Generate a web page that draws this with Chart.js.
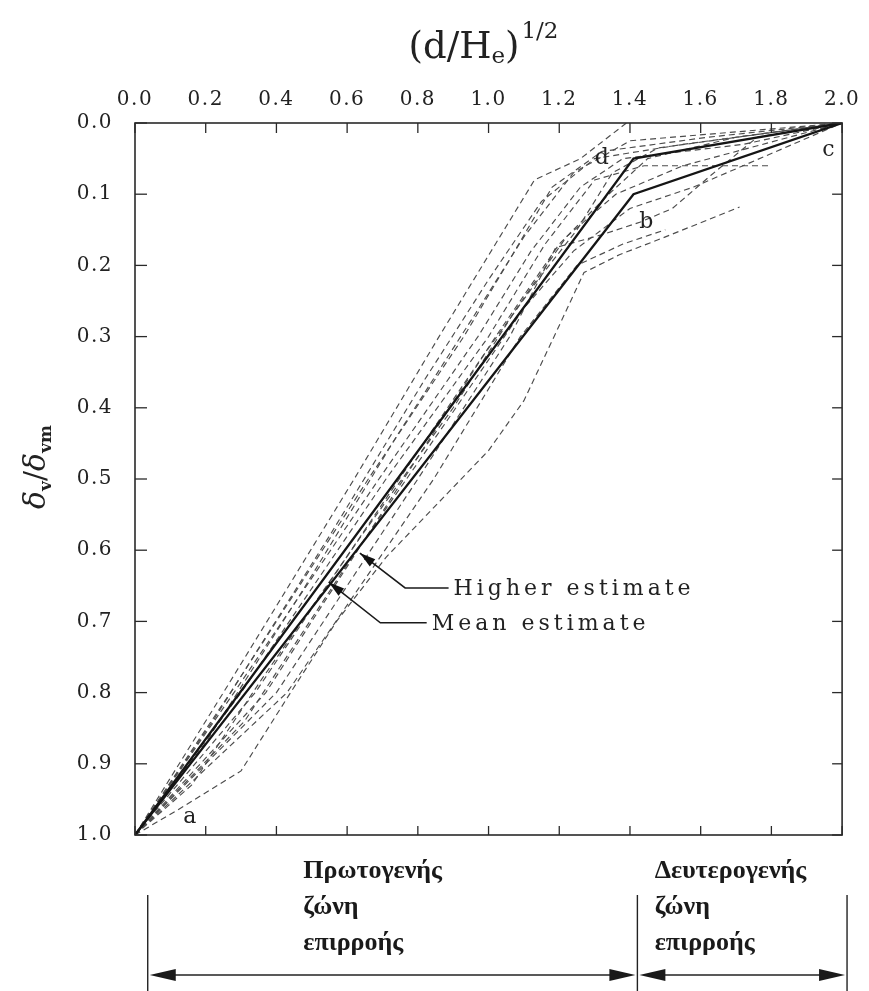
<!DOCTYPE html>
<html>
<head>
<meta charset="utf-8">
<script src="https://cdn.jsdelivr.net/npm/chart.js@4.4.1/dist/chart.umd.min.js"></script>
<style>
  html, body { margin: 0; padding: 0; background: #fff; }
  canvas { display: block; }
</style>
</head>
<body>
<canvas id="chart" width="869" height="991"></canvas>
<script>
// Axis ticks
const xTickValues = [0, 0.2, 0.4, 0.6, 0.8, 1.0, 1.2, 1.4, 1.6, 1.8, 2.0];
const yTickValues = [0, 0.1, 0.2, 0.3, 0.4, 0.5, 0.6, 0.7, 0.8, 0.9, 1.0];

// Design envelopes, [ (d/He)^1/2 , δv/δvm ]
const meanEstimate   = [[0, 1.0], [1.41, 0.05], [2.0, 0]];
const higherEstimate = [[0, 1.0], [1.41, 0.10], [2.0, 0]];

// Measured settlement profiles (dashed)
const profile1  = [[0, 1], [0.25, 0.80], [0.62, 0.50], [0.86, 0.30], [1.13, 0.08], [1.26, 0.05], [1.39, 0]];
const profile2  = [[0, 1], [0.27, 0.80], [0.66, 0.50], [0.93, 0.30], [1.05, 0.20], [1.18, 0.09], [1.32, 0.04], [1.62, 0.02], [2.0, 0]];
const profile3  = [[0, 1], [0.28, 0.80], [0.69, 0.50], [0.97, 0.30], [1.12, 0.18], [1.26, 0.09], [1.38, 0.05], [1.72, 0.03], [2.0, 0]];
const profile4  = [[0, 1], [0.30, 0.80], [0.71, 0.50], [1.00, 0.30], [1.16, 0.17], [1.30, 0.08], [1.44, 0.06], [1.80, 0.06]];
const profile5  = [[0, 1], [0.34, 0.80], [0.72, 0.52], [0.98, 0.33], [1.14, 0.22], [1.25, 0.15], [1.35, 0.07], [1.48, 0.035], [2.0, 0]];
const profile6  = [[0, 1], [0.37, 0.80], [0.76, 0.50], [1.02, 0.30], [1.20, 0.17], [1.34, 0.10], [1.45, 0.05], [1.70, 0.02], [2.0, 0]];
const profile7  = [[0, 1], [0.40, 0.80], [0.80, 0.50], [1.06, 0.30], [1.19, 0.175], [1.32, 0.157], [1.43, 0.139], [1.52, 0.12], [1.63, 0.073], [1.76, 0.02], [2.0, 0]];
const profile8  = [[0, 1], [0.43, 0.80], [0.845, 0.50], [1.09, 0.30], [1.25, 0.20], [1.38, 0.17], [1.50, 0.15]];
const profile9  = [[0, 1], [0.12, 0.965], [0.30, 0.91], [0.44, 0.80], [0.57, 0.70], [0.71, 0.61], [1.0, 0.46], [1.10, 0.39], [1.19, 0.295], [1.27, 0.21], [1.37, 0.185], [1.49, 0.162], [1.71, 0.118]];
const profile10 = [[0, 1], [0.16, 0.93], [0.36, 0.78], [0.64, 0.58], [0.90, 0.40], [1.08, 0.26], [1.22, 0.16], [1.36, 0.10], [1.55, 0.06], [2.0, 0]];
const profile11 = [[0, 1], [0.22, 0.84], [0.55, 0.58], [0.82, 0.36], [1.00, 0.22], [1.15, 0.11], [1.30, 0.05], [1.55, 0.03], [2.0, 0]];
const profile12 = [[0, 1], [0.20, 0.87], [0.47, 0.66], [0.74, 0.44], [0.96, 0.27], [1.10, 0.16], [1.24, 0.07], [1.40, 0.025], [2.0, 0]];
const profile13 = [[0, 1], [0.31, 0.84], [0.60, 0.62], [0.88, 0.42], [1.10, 0.26], [1.24, 0.18], [1.40, 0.12], [1.58, 0.09], [2.0, 0]];

// Point letters
const letterNames  = ['a', 'b', 'c', 'd'];
const letterPoints = [[0.155, 0.975], [1.446, 0.139], [1.961, 0.038], [1.32, 0.049]];

// Envelope call-outs: arrow tip, elbow, end of leader, text
const calloutText  = ['Higher estimate', 'Mean estimate'];
const calloutTip   = [[0.636, 0.604], [0.548, 0.645]];
const calloutElbow = [[0.764, 0.653], [0.694, 0.702]];
const calloutEnd   = [0.887, 0.825];

// Influence zones below the plot
const zoneBounds = [0.036, 1.421, 2.014];
const zoneTextX  = [0.476, 1.47];
const zoneLines  = [['Πρωτογενής', 'ζώνη', 'επιρροής'], ['Δευτερογενής', 'ζώνη', 'επιρροής']];

const toXY = arr => arr.map(([x, y]) => ({ x, y }));
const profiles = [profile1, profile2, profile3, profile4, profile5, profile6, profile7,
                  profile8, profile9, profile10, profile11, profile12, profile13];

const solidSet = (pts) => ({
  data: toXY(pts), showLine: true, pointRadius: 0, borderColor: '#151515', borderWidth: 2.3, tension: 0
});
const dashedSet = (pts) => ({
  data: toXY(pts), showLine: true, pointRadius: 0, borderColor: '#4c4c4c', borderWidth: 1.15,
  borderDash: [6, 4], tension: 0
});

const SERIF = '"DejaVu Serif", "Liberation Serif", serif';
const TIMES = '"Liberation Serif", "DejaVu Serif", serif';

function arrowHead(ctx, tx, ty, fx, fy, len, half) {
  const ang = Math.atan2(ty - fy, tx - fx);
  ctx.beginPath();
  ctx.moveTo(tx, ty);
  ctx.lineTo(tx - len * Math.cos(ang) + half * Math.sin(ang), ty - len * Math.sin(ang) - half * Math.cos(ang));
  ctx.lineTo(tx - len * Math.cos(ang) - half * Math.sin(ang), ty - len * Math.sin(ang) + half * Math.cos(ang));
  ctx.closePath();
  ctx.fill();
}

// wider letter spacing for the axis tick labels
const spacing = {
  id: 'spacing',
  beforeDraw(chart) { chart.ctx.letterSpacing = '1.5px'; },
  beforeDatasetsDraw(chart) { chart.ctx.letterSpacing = '0px'; }
};

const decor = {
  id: 'decor',
  afterDraw(chart) {
    const { ctx, chartArea: a, scales: { x, y } } = chart;
    const X = v => x.getPixelForValue(v);
    const Y = v => y.getPixelForValue(v);
    const seg = (x1, y1, x2, y2) => { ctx.beginPath(); ctx.moveTo(x1, y1); ctx.lineTo(x2, y2); ctx.stroke(); };
    ctx.save();
    ctx.letterSpacing = '0px';

    // frame and inward ticks on all four sides
    ctx.strokeStyle = '#2a2a2a';
    ctx.lineWidth = 1.6;
    ctx.strokeRect(a.left, a.top, a.right - a.left, a.bottom - a.top);
    ctx.lineWidth = 1.3;
    xTickValues.forEach(v => {
      const px = X(v);
      seg(px, a.top, px, a.top + 10);
      seg(px, a.bottom, px, a.bottom - 9);
    });
    yTickValues.forEach(v => {
      const py = Y(v);
      seg(a.left, py, a.left + 12, py);
      seg(a.right, py, a.right - 10, py);
    });

    // point letters
    ctx.fillStyle = '#222';
    ctx.font = '22px ' + SERIF;
    ctx.textAlign = 'center';
    ctx.textBaseline = 'middle';
    letterNames.forEach((t, i) => ctx.fillText(t, X(letterPoints[i][0]), Y(letterPoints[i][1])));

    // call-outs
    ctx.strokeStyle = '#1a1a1a';
    ctx.lineWidth = 1.6;
    calloutText.forEach((t, i) => {
      const tx = X(calloutTip[i][0]), ty = Y(calloutTip[i][1]);
      const ex = X(calloutElbow[i][0]), ey = Y(calloutElbow[i][1]);
      const hx = X(calloutEnd[i]);
      ctx.beginPath();
      ctx.moveTo(tx, ty); ctx.lineTo(ex, ey); ctx.lineTo(hx, ey);
      ctx.stroke();
      ctx.fillStyle = '#111';
      arrowHead(ctx, tx, ty, ex, ey, 16, 4.5);
      ctx.font = '22px ' + SERIF;
      ctx.letterSpacing = '4px';
      ctx.textAlign = 'left';
      ctx.textBaseline = 'middle';
      ctx.fillStyle = '#222';
      ctx.fillText(t, hx + 5, ey + 1);
      ctx.letterSpacing = '0px';
    });

    // x-axis title: (d/He)^1/2
    ctx.fillStyle = '#222';
    ctx.textBaseline = 'alphabetic';
    ctx.textAlign = 'left';
    const big = '37px ' + SERIF, small = '23px ' + SERIF;
    const parts = [
      { t: '(d/H', f: big, dy: 0 },
      { t: 'e', f: small, dy: 5 },
      { t: ')', f: big, dy: 0 },
      { t: '1/2', f: small, dy: -20 }
    ];
    let total = 0;
    parts.forEach(p => { ctx.font = p.f; p.w = ctx.measureText(p.t).width; total += p.w + (p.t === '1/2' ? 2 : 0); });
    let cx = (a.left + a.right) / 2 - total / 2 - 5;
    const base = 58;
    parts.forEach(p => {
      ctx.font = p.f;
      if (p.t === '1/2') cx += 2;
      ctx.fillText(p.t, cx, base + p.dy);
      cx += p.w;
    });

    // y-axis title: δv/δvm (rotated)
    ctx.save();
    ctx.translate(45, 467);
    ctx.rotate(-Math.PI / 2);
    const yparts = [
      { t: 'δ', f: 'italic 30px ' + SERIF, dy: 0 },
      { t: 'v', f: 'bold 17px ' + SERIF, dy: 6 },
      { t: '/', f: '30px ' + SERIF, dy: 0 },
      { t: 'δ', f: 'italic 30px ' + SERIF, dy: 0 },
      { t: 'vm', f: 'bold 17px ' + SERIF, dy: 6 }
    ];
    let yw = 0;
    yparts.forEach(p => { ctx.font = p.f; p.w = ctx.measureText(p.t).width; yw += p.w; });
    let yx = -yw / 2;
    yparts.forEach(p => { ctx.font = p.f; ctx.fillText(p.t, yx, p.dy); yx += p.w; });
    ctx.restore();

    // influence zones
    const H = chart.height;
    ctx.strokeStyle = '#222';
    ctx.lineWidth = 1.4;
    zoneBounds.forEach(v => seg(X(v), a.bottom + 60, X(v), H));
    const arrowY = a.bottom + 140;
    ctx.fillStyle = '#1a1a1a';
    for (let i = 0; i < zoneBounds.length - 1; i++) {
      const l = X(zoneBounds[i]) + 2, r = X(zoneBounds[i + 1]) - 2;
      ctx.lineWidth = 1.3;
      seg(l + 20, arrowY, r - 20, arrowY);
      arrowHead(ctx, l, arrowY, r, arrowY, 26, 6);
      arrowHead(ctx, r, arrowY, l, arrowY, 26, 6);
    }
    ctx.font = 'bold 26px ' + TIMES;
    ctx.textAlign = 'left';
    ctx.textBaseline = 'middle';
    ctx.fillStyle = '#1a1a1a';
    zoneLines.forEach((lines, i) => {
      lines.forEach((t, j) => ctx.fillText(t, X(zoneTextX[i]), a.bottom + 36 + j * 36));
    });

    ctx.restore();
  }
};

const tickFont = { family: SERIF, size: 20 };

new Chart(document.getElementById('chart'), {
  type: 'scatter',
  data: {
    datasets: [
      solidSet(meanEstimate),
      solidSet(higherEstimate),
      ...profiles.map(dashedSet)
    ]
  },
  options: {
    responsive: false,
    animation: false,
    devicePixelRatio: 1,
    layout: { padding: { left: 0, top: 0, right: 19, bottom: 156 } },
    plugins: { legend: { display: false }, tooltip: { enabled: false } },
    scales: {
      x: {
        type: 'linear', position: 'top', min: 0, max: 2,
        grid: { display: false, drawTicks: false },
        border: { display: false },
        ticks: {
          stepSize: 0.2, padding: 11, color: '#222', font: tickFont,
          maxRotation: 0, autoSkip: false,
          callback: v => Number(v).toFixed(1)
        },
        afterFit(s) { s.height = 123; }
      },
      y: {
        type: 'linear', position: 'left', reverse: true, min: 0, max: 1,
        grid: { display: false, drawTicks: false },
        border: { display: false },
        ticks: {
          stepSize: 0.1, padding: 22, color: '#222', font: tickFont,
          autoSkip: false,
          callback: v => Number(v).toFixed(1)
        },
        afterFit(s) { s.width = 135; }
      }
    }
  },
  plugins: [spacing, decor]
});
</script>
</body>
</html>
